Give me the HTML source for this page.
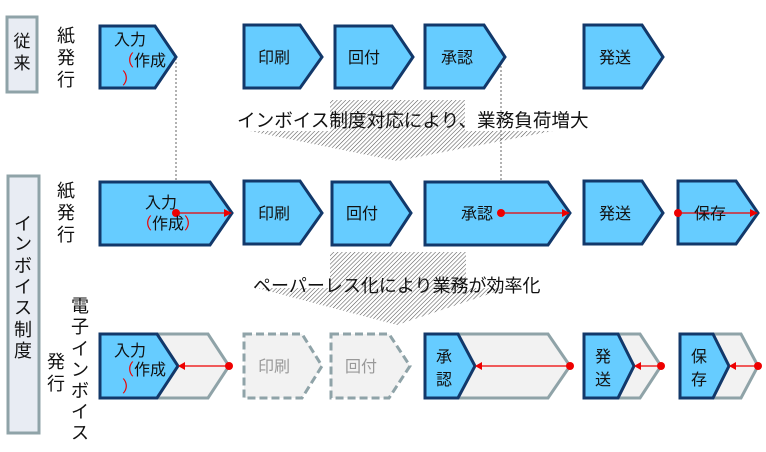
<!DOCTYPE html>
<html><head><meta charset="utf-8"><style>
html,body{margin:0;padding:0;background:#fff;}
svg{display:block;font-family:"Liberation Sans","Noto Sans CJK JP",sans-serif;}
</style></head><body>
<svg width="766" height="452" viewBox="0 0 766 452" xmlns="http://www.w3.org/2000/svg">
<defs>
<pattern id="h" patternUnits="userSpaceOnUse" width="3" height="3" patternTransform="rotate(45)">
<rect width="3" height="3" fill="#fff"/><line x1="0" y1="0" x2="0" y2="3" stroke="#555" stroke-width="1.1"/>
</pattern>
</defs>
<g font-size="17" fill="#111">
<polygon points="330,100 465,100 465,131 553,131 397,161 250,131 330,131" fill="url(#h)"/>
<polygon points="330,252 466,252 466,288 507,288 397,325 257,288 330,288" fill="url(#h)"/>
<text x="237" y="127" font-size="18.6">インボイス制度対応により、業務負荷増大</text>
<text x="253" y="292" font-size="18">ペーパーレス化により業務が効率化</text>

<rect x="7" y="17" width="30" height="75" fill="#e8ecf3" stroke="#8fa3a8" stroke-width="3"/>
<text x="22" y="47" text-anchor="middle">従</text><text x="22" y="69" text-anchor="middle">来</text>
<rect x="8" y="176" width="31" height="257" fill="#e8ecf3" stroke="#8fa3a8" stroke-width="3"/>
<g text-anchor="middle" font-size="18">
<text x="23" y="230">イ</text><text x="23" y="250">ン</text><text x="23" y="272">ボ</text><text x="23" y="293">イ</text><text x="23" y="314">ス</text><text x="23" y="336">制</text><text x="23" y="357">度</text>
<text x="66" y="42">紙</text><text x="66" y="64">発</text><text x="66" y="86">行</text>
<text x="66" y="197">紙</text><text x="66" y="219">発</text><text x="66" y="241">行</text>
<text x="80" y="312">電</text><text x="80" y="333">子</text><text x="80" y="355">イ</text><text x="80" y="376">ン</text><text x="80" y="397">ボ</text><text x="80" y="418">イ</text><text x="80" y="439">ス</text>
<text x="56" y="368">発</text><text x="56" y="390">行</text>
</g>

<line x1="176" y1="58" x2="176" y2="212" stroke="#666" stroke-dasharray="2,2" stroke-width="1"/>
<line x1="501" y1="66" x2="501" y2="212" stroke="#666" stroke-dasharray="2,2" stroke-width="1"/>

<g stroke="#12386a" stroke-width="3" fill="#66ccff">
<polygon points="100,26 155,26 176,57 155,88 100,88"/>
<polygon points="244,25 300,25 322,57 300,88 244,88"/>
<polygon points="335,26 392,26 413,57 392,88 335,88"/>
<polygon points="425,25 484,25 505,57 484,88 425,88"/>
<polygon points="584,25 642,25 663,57 642,88 584,88"/>
<polygon points="100,182 210,182 232,213 210,245 100,245"/>
<polygon points="244,181 300,181 322,213 300,244 244,244"/>
<polygon points="332,182 390,182 411,213 390,245 332,245"/>
<polygon points="425,182 548,182 570,213 548,245 425,245"/>
<polygon points="584,181 642,181 663,213 642,244 584,244"/>
<polygon points="678,181 736,181 758,213 736,244 678,244"/>
</g>
<g stroke="#8fa3a8" stroke-width="3" fill="#f2f2f2">
<polygon points="100,334 208,334 229,366 208,398 100,398"/>
<polygon points="425,334 548,334 570,366 548,398 425,398"/>
<polygon points="584,334 640,334 661,366 640,398 584,398"/>
<polygon points="680,334 741,334 758,366 741,398 680,398"/>
<polygon points="244,334 302,334 322,366 302,398 244,398" stroke-dasharray="8,4"/>
<polygon points="331,334 389,334 410,366 389,398 331,398" stroke-dasharray="8,4"/>
</g>
<g stroke="#12386a" stroke-width="3" fill="#66ccff">
<polygon points="100,334 157,334 178,366 157,398 100,398"/>
<polygon points="425,334 458,334 475,366 458,398 425,398"/>
<polygon points="584,334 618,334 634,366 618,398 584,398"/>
<polygon points="680,334 713,334 729,366 713,398 680,398"/>
</g>

<g stroke="#e00" stroke-width="1.2" fill="#e00">
<line x1="176" y1="213" x2="228" y2="213"/><polygon points="232,213 224,209 224,217" stroke="none"/><circle cx="176" cy="213" r="4" stroke="none"/>
<line x1="501" y1="213" x2="566" y2="213"/><polygon points="570,213 562,209 562,217" stroke="none"/><circle cx="501" cy="213" r="4" stroke="none"/>
<line x1="678" y1="213" x2="754" y2="213"/><polygon points="758,213 750,209 750,217" stroke="none"/><circle cx="678" cy="213" r="4" stroke="none"/>
<line x1="229" y1="366" x2="182" y2="366"/><polygon points="178,366 185,362 185,370" stroke="none"/><circle cx="229" cy="366" r="4" stroke="none"/>
<line x1="570" y1="366" x2="479" y2="366"/><polygon points="475,366 482,362 482,370" stroke="none"/><circle cx="570" cy="366" r="4" stroke="none"/>
<line x1="661" y1="366" x2="638" y2="366"/><polygon points="634,366 641,362 641,370" stroke="none"/><circle cx="661" cy="366" r="4" stroke="none"/>
<line x1="758" y1="366" x2="733" y2="366"/><polygon points="729,366 736,362 736,370" stroke="none"/><circle cx="758" cy="366" r="4" stroke="none"/>
</g>

<g font-size="16">
<text x="114" y="45">入力</text>
<text x="118" y="66"><tspan fill="#e00">（</tspan>作成</text><text x="122" y="84" fill="#e00">）</text>
<text x="258" y="63">印刷</text><text x="348" y="63">回付</text><text x="441" y="63">承認</text><text x="599" y="63">発送</text>
<text x="145" y="208">入力</text>
<text x="136" y="229"><tspan fill="#e00">（</tspan>作成<tspan fill="#e00">）</tspan></text>
<text x="258" y="219">印刷</text><text x="346" y="219">回付</text><text x="461" y="219">承認</text><text x="599" y="219">発送</text><text x="694" y="219">保存</text>
<text x="114" y="356">入力</text>
<text x="118" y="375"><tspan fill="#e00">（</tspan>作成</text><text x="122" y="392" fill="#e00">）</text>
<text x="258" y="372" fill="#999">印刷</text><text x="345" y="372" fill="#999">回付</text>
<text x="436" y="362">承</text><text x="436" y="385">認</text>
<text x="595" y="362">発</text><text x="595" y="385">送</text>
<text x="691" y="362">保</text><text x="691" y="385">存</text>
</g>
</g>
</svg>
</body></html>
